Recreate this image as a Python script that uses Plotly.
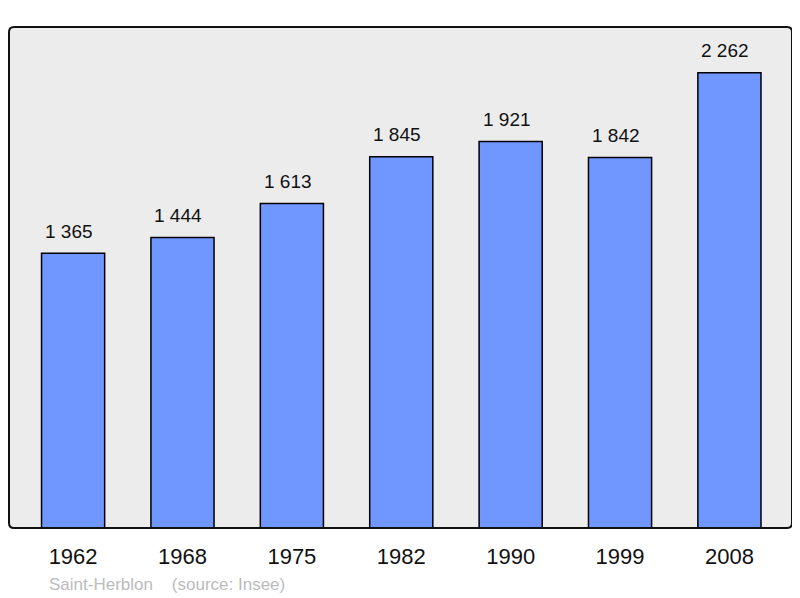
import plotly.graph_objects as go

years = ["1962", "1968", "1975", "1982", "1990", "1999", "2008"]
population = [1365, 1444, 1613, 1845, 1921, 1842, 2262]
title_text = "Saint-Herblon    (source: Insee)"

x_idx = list(range(len(years)))

fig = go.Figure()
fig.add_trace(go.Bar(
    x=x_idx, y=population, width=0.577,
    marker=dict(color="#7096ff", line=dict(color="#000000", width=1.5)),
    hoverinfo="skip",
))

for i, v in zip(x_idx, population):
    fig.add_annotation(x=i, y=v, text=f"{v:,}".replace(",", " "),
                       showarrow=False, yanchor="middle", yshift=22, xshift=-4,
                       font=dict(family="Liberation Sans, Arial", size=19, color="#111111"))

W, H = 783.0, 501.0
r = 5.0
rx, ry = r / W, r / H
path = (f"M {rx},0 L {1-rx},0 Q 1,0 1,{ry} L 1,{1-ry} Q 1,1 {1-rx},1 "
        f"L {rx},1 Q 0,1 0,{1-ry} L 0,{ry} Q 0,0 {rx},0 Z")
fig.add_shape(type="path", xref="paper", yref="paper", path=path,
              line=dict(color="#111111", width=2), layer="above")

fig.add_annotation(x=(47 - 9) / W, y=(528 - 584) / H, xref="paper", yref="paper",
                   text=title_text, showarrow=False, xanchor="left", yanchor="middle",
                   font=dict(family="Liberation Sans, Arial", size=17, color="#bbbbbb"))

# page body has an 8px margin; figure sized to fit the 800x598 window
fig.update_layout(
    width=792, height=590,
    margin=dict(l=1, r=8, t=19, b=70, pad=0),
    paper_bgcolor="#ffffff", plot_bgcolor="#ececec",
    showlegend=False,
    xaxis=dict(range=[-0.586, 6.572], tickvals=x_idx, ticktext=years,
               showgrid=False, zeroline=False, showline=False, ticks="",
               tickfont=dict(family="Liberation Sans, Arial", size=22, color="#111111"),
               ticklabelstandoff=13, fixedrange=True),
    yaxis=dict(range=[0, 2490], showgrid=False, zeroline=False, showline=False,
               showticklabels=False, ticks="", fixedrange=True),
)

fig.write_html("out.html")
